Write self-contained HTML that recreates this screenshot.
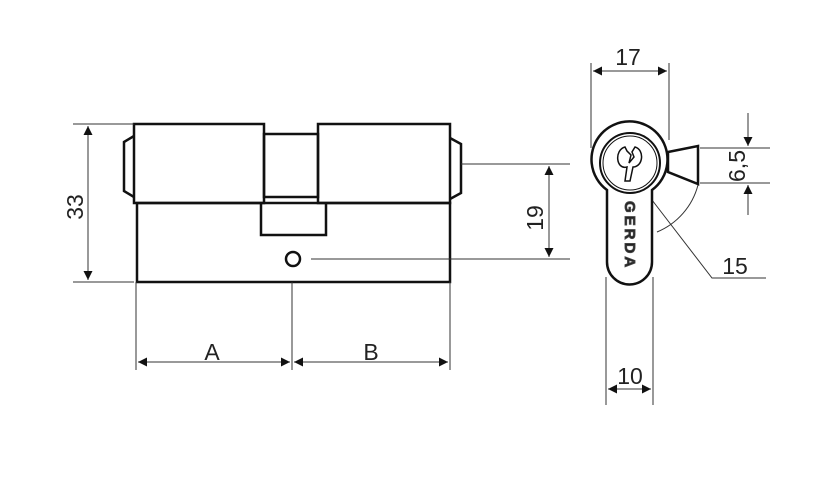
<!DOCTYPE html><html><head><style>body{margin:0;background:#fff}svg{display:block}text{font-family:"Liberation Sans",sans-serif;fill:#222}</style></head><body>
<svg width="826" height="497" viewBox="0 0 826 497" xmlns="http://www.w3.org/2000/svg">
<defs><marker id="a" viewBox="0 0 10 10" refX="10" refY="5" markerWidth="16" markerHeight="9" markerUnits="userSpaceOnUse" orient="auto-start-reverse"><path d="M0,0L10,5L0,10z" fill="#111"/></marker></defs>
<g fill="none" stroke="#111" stroke-width="2.5">
<rect x="134" y="124" width="130" height="79"/>
<rect x="264" y="134" width="54" height="63"/>
<rect x="318" y="124" width="132" height="79"/>
<rect x="137" y="203" width="313" height="79"/>
<path d="M261,203V235H326V203"/>
<circle cx="293" cy="259" r="7"/>
<path d="M134,136L124,142V191L134,197"/>
<path d="M450,138L461,144V193L450,199"/>
</g>
<g stroke="#333" stroke-width="1" fill="none">
<line x1="73" y1="124" x2="134" y2="124"/><line x1="73" y1="282" x2="134" y2="282"/>
<line x1="88" y1="126" x2="88" y2="280" marker-start="url(#a)" marker-end="url(#a)"/>
<line x1="461" y1="164" x2="570" y2="164"/><line x1="311" y1="259" x2="570" y2="259"/>
<line x1="549" y1="166" x2="549" y2="257" marker-start="url(#a)" marker-end="url(#a)"/>
<line x1="136" y1="282" x2="136" y2="370"/><line x1="292" y1="282" x2="292" y2="370"/><line x1="450" y1="282" x2="450" y2="370"/>
<line x1="138" y1="362" x2="290" y2="362" marker-start="url(#a)" marker-end="url(#a)"/>
<line x1="294" y1="362" x2="448" y2="362" marker-start="url(#a)" marker-end="url(#a)"/>
<line x1="591" y1="63" x2="591" y2="148"/><line x1="669" y1="63" x2="669" y2="140"/>
<line x1="593" y1="71" x2="667" y2="71" marker-start="url(#a)" marker-end="url(#a)"/>
<line x1="700" y1="148" x2="770" y2="148"/><line x1="700" y1="183" x2="770" y2="183"/>
<line x1="748" y1="113" x2="748" y2="146" marker-end="url(#a)"/>
<line x1="748" y1="215" x2="748" y2="185" marker-end="url(#a)"/>
<path d="M698,185A70,70 0 0 1 657,232"/>
<path d="M652,200L712,278H766"/>
<line x1="606" y1="277" x2="606" y2="405"/><line x1="653" y1="277" x2="653" y2="405"/>
<line x1="608" y1="389" x2="651" y2="389" marker-start="url(#a)" marker-end="url(#a)"/>
</g>
<g fill="#fff" stroke="#111" stroke-width="2.5">
<path d="M668,152L698,146V184L668,172z"/>
<path d="M607,190A38,38 0 1 1 652,190V262A22.5,22.5 0 0 1 607,262z"/>
<circle cx="630" cy="163" r="30" stroke-width="2"/>
<circle cx="630" cy="163" r="27" stroke-width="1"/>
<path d="M625,147C614,150 616,170 627,167L625,181L630,181L633,167C643,167 645,150 635,147L632,152L634,157L629,163L631,155L627,151z" stroke-width="1.5"/>
</g>
<text x="625" y="201" font-size="15" font-weight="bold" transform="rotate(90 625 201)" fill="#fff" stroke="#444" stroke-width="0.9" letter-spacing="3">GERDA</text>
<text x="0" y="0" font-size="23" transform="translate(83,207) rotate(-90)" text-anchor="middle">33</text>
<text x="0" y="0" font-size="23" transform="translate(543,218) rotate(-90)" text-anchor="middle">19</text>
<text x="212" y="360" font-size="23" text-anchor="middle">A</text>
<text x="371" y="360" font-size="23" text-anchor="middle">B</text>
<text x="628" y="65" font-size="23" text-anchor="middle">17</text>
<text x="0" y="0" font-size="23" transform="translate(745,166) rotate(-90)" text-anchor="middle">6,5</text>
<text x="735" y="274" font-size="23" text-anchor="middle">15</text>
<text x="630" y="384" font-size="23" text-anchor="middle">10</text>
</svg></body></html>
